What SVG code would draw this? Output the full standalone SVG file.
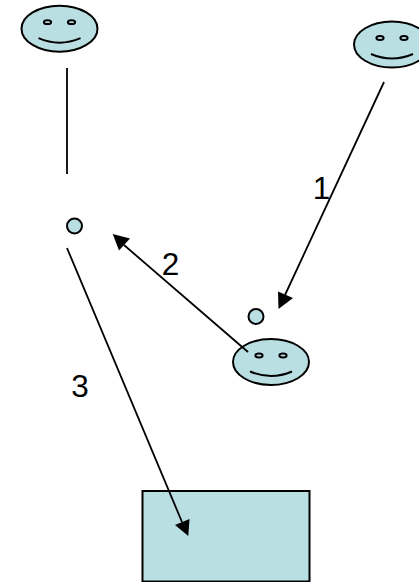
<svg xmlns="http://www.w3.org/2000/svg" width="419" height="582" viewBox="0 0 419 582">
<style>
.s{fill:#b9dfe3;stroke:#000;stroke-width:2}
.m{fill:none;stroke:#000;stroke-width:2}
.c{stroke:#000;stroke-width:1.8;fill:none}
.h{fill:#000}
text{font-family:"Liberation Sans",Arial,sans-serif;font-size:31.500px;fill:#000;text-anchor:middle}
</style>
<defs>
<g id="face">
<ellipse class="s" cx="0" cy="0" rx="38" ry="23"/>
<ellipse class="s" cx="-12" cy="-6.500" rx="3.600" ry="1.900"/>
<ellipse class="s" cx="12" cy="-6.500" rx="3.600" ry="1.900"/>
<path class="m" d="M-21 9.500Q0 18.500 21 9.500"/>
</g>
</defs>
<rect width="419" height="582" fill="#fff"/>
<g id="actor-a"><use href="#face" x="59.500" y="28.700"/></g>
<g id="actor-b"><use href="#face" x="392" y="44.500"/></g>
<g id="actor-c"><use href="#face" x="271" y="362"/></g>
<g id="dot-a"><circle class="s" cx="74.500" cy="226" r="7.500"/></g>
<g id="dot-b"><circle class="s" cx="256" cy="316.500" r="7.500"/></g>
<g id="box"><rect class="s" x="142.500" y="491" width="167" height="90.500"/></g>
<g id="connectors">
<line class="c" x1="67" y1="68" x2="67" y2="174"/>
<line class="c" x1="384" y1="82" x2="285" y2="295"/>
<polygon class="h" points="278.500,309 278,291.500 293,298"/>
<line class="c" x1="248" y1="352" x2="124" y2="245"/>
<polygon class="h" points="112.700,234 130,238.500 119,250.500"/>
<line class="c" x1="67" y1="248" x2="182" y2="522"/>
<polygon class="h" points="188.300,536 175,525 189.500,519"/>
</g>
<text x="321.500" y="199">1</text>
<text x="170.500" y="274.500">2</text>
<text x="80" y="397">3</text>
</svg>
